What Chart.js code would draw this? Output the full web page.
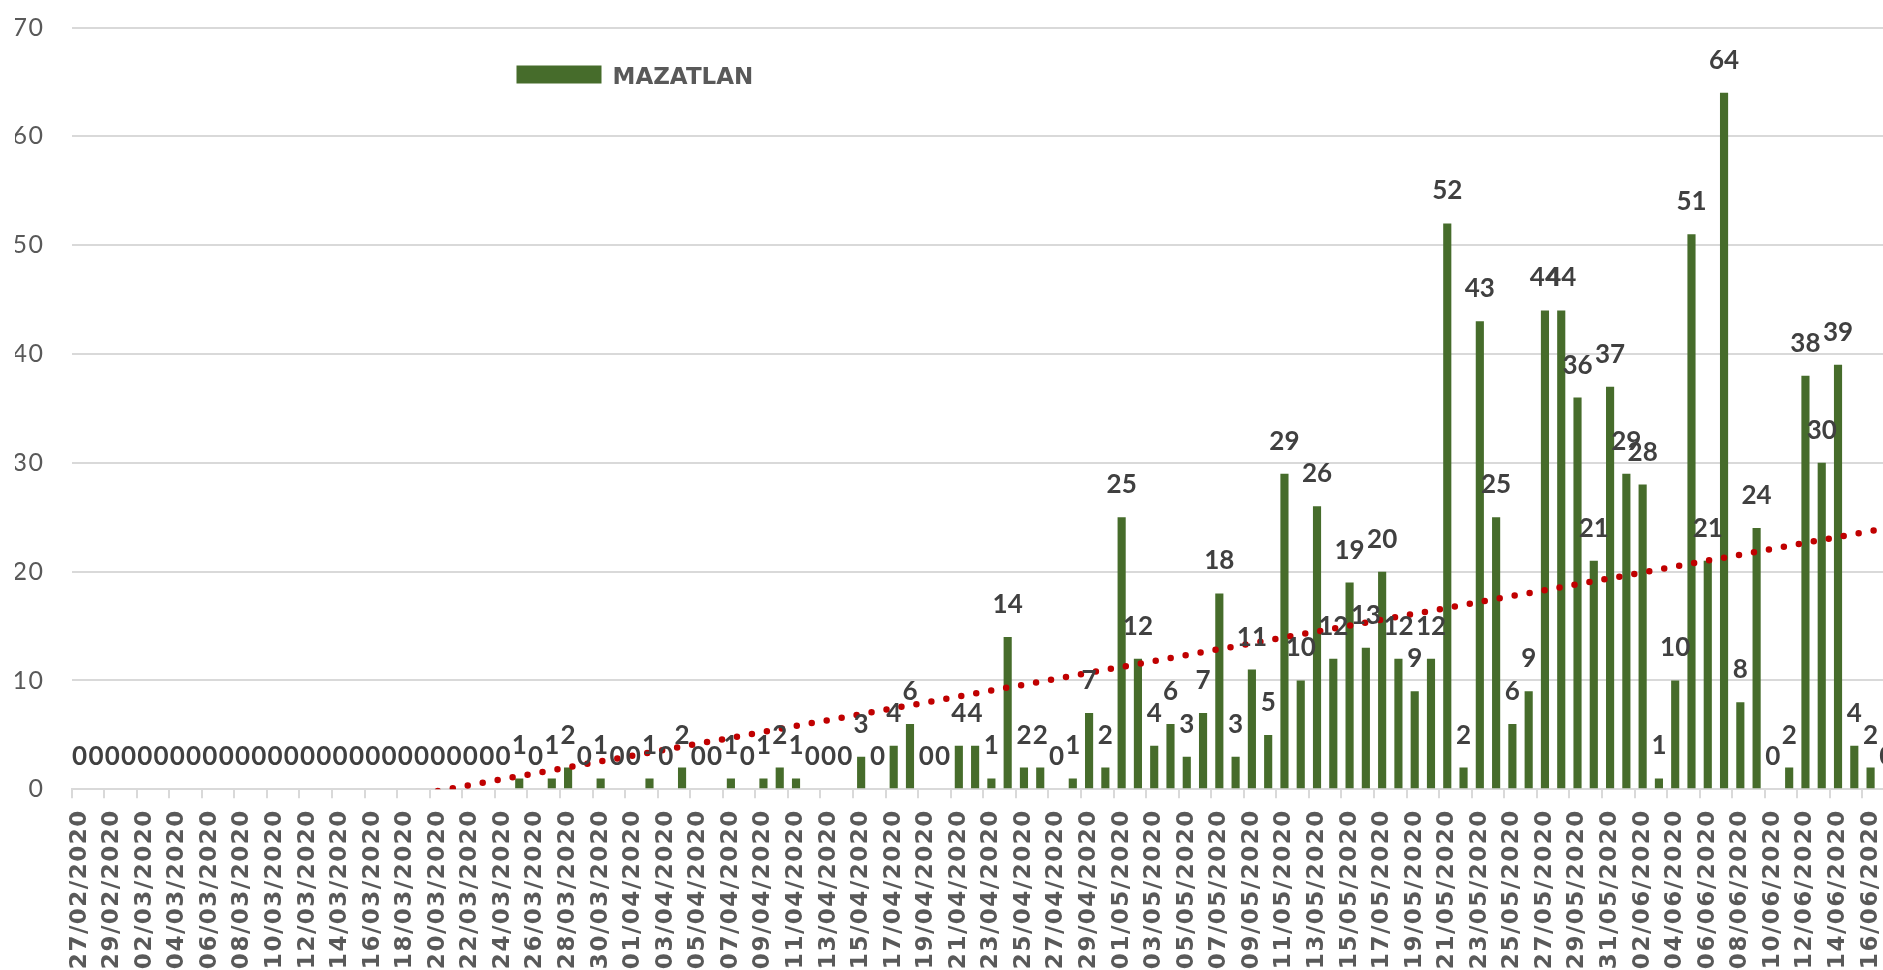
<!DOCTYPE html>
<html lang="es">
<head>
<meta charset="UTF-8">
<title>MAZATLAN</title>
<script src="https://cdn.jsdelivr.net/npm/chart.js@4.4.1/dist/chart.umd.min.js"></script>
<style>
    html, body { margin: 0; padding: 0; background: #ffffff; overflow: hidden; }
    #chartBox { width: 1883px; height: 970px; overflow: hidden; }
</style>
</head>
<body>
<div id="chartBox">
    <canvas id="casosChart" width="1900" height="970"></canvas>
</div>
<script>
// Datos de la gráfica
const fechas = [
    '27/02/2020', '28/02/2020', '29/02/2020',
    '01/03/2020', '02/03/2020', '03/03/2020', '04/03/2020', '05/03/2020', '06/03/2020', '07/03/2020', '08/03/2020',
    '09/03/2020', '10/03/2020', '11/03/2020', '12/03/2020', '13/03/2020', '14/03/2020', '15/03/2020', '16/03/2020',
    '17/03/2020', '18/03/2020', '19/03/2020', '20/03/2020', '21/03/2020', '22/03/2020', '23/03/2020', '24/03/2020',
    '25/03/2020', '26/03/2020', '27/03/2020', '28/03/2020', '29/03/2020', '30/03/2020', '31/03/2020',
    '01/04/2020', '02/04/2020', '03/04/2020', '04/04/2020', '05/04/2020', '06/04/2020', '07/04/2020', '08/04/2020',
    '09/04/2020', '10/04/2020', '11/04/2020', '12/04/2020', '13/04/2020', '14/04/2020', '15/04/2020', '16/04/2020',
    '17/04/2020', '18/04/2020', '19/04/2020', '20/04/2020', '21/04/2020', '22/04/2020', '23/04/2020', '24/04/2020',
    '25/04/2020', '26/04/2020', '27/04/2020', '28/04/2020', '29/04/2020', '30/04/2020',
    '01/05/2020', '02/05/2020', '03/05/2020', '04/05/2020', '05/05/2020', '06/05/2020', '07/05/2020', '08/05/2020',
    '09/05/2020', '10/05/2020', '11/05/2020', '12/05/2020', '13/05/2020', '14/05/2020', '15/05/2020', '16/05/2020',
    '17/05/2020', '18/05/2020', '19/05/2020', '20/05/2020', '21/05/2020', '22/05/2020', '23/05/2020', '24/05/2020',
    '25/05/2020', '26/05/2020', '27/05/2020', '28/05/2020', '29/05/2020', '30/05/2020', '31/05/2020',
    '01/06/2020', '02/06/2020', '03/06/2020', '04/06/2020', '05/06/2020', '06/06/2020', '07/06/2020', '08/06/2020',
    '09/06/2020', '10/06/2020', '11/06/2020', '12/06/2020', '13/06/2020', '14/06/2020', '15/06/2020', '16/06/2020',
    '17/06/2020'
];

const casosMazatlan = [
    0, 0, 0, 0, 0, 0, 0, 0, 0, 0,
    0, 0, 0, 0, 0, 0, 0, 0, 0, 0,
    0, 0, 0, 0, 0, 0, 0, 1, 0, 1,
    2, 0, 1, 0, 0, 1, 0, 2, 0, 0,
    1, 0, 1, 2, 1, 0, 0, 0, 3, 0,
    4, 6, 0, 0, 4, 4, 1, 14, 2, 2,
    0, 1, 7, 2, 25, 12, 4, 6, 3, 7,
    18, 3, 11, 5, 29, 10, 26, 12, 19, 13,
    20, 12, 9, 12, 52, 2, 43, 25, 6, 9,
    44, 44, 36, 21, 37, 29, 28, 1, 10, 51,
    21, 64, 8, 24, 0, 2, 38, 30, 39, 4,
    2, 0
];

// Línea de tendencia (extremos)
const tendenciaFechas = ['20/03/2020', '17/06/2020'];
const tendenciaValores = [-0.15, 24.0];

// Eje Y
const ejeYMin = 0;
const ejeYMax = 70;
const ejeYPaso = 10;

const COLOR_BARRA = '#466C2B';
const COLOR_TENDENCIA = '#C00000';
const COLOR_TEXTO = '#595959';
const COLOR_GRID = '#D9D9D9';

// Etiquetas de valor encima de cada barra
const etiquetasValor = {
    id: 'etiquetasValor',
    afterDatasetsDraw(chart) {
        const ctx = chart.ctx;
        const meta = chart.getDatasetMeta(0);
        ctx.save();
        ctx.letterSpacing = '0px';
        ctx.font = 'bold 26px Lato';
        ctx.fillStyle = '#404040';
        ctx.textAlign = 'center';
        ctx.textBaseline = 'alphabetic';
        meta.data.forEach((bar, i) => {
            ctx.fillText(String(casosMazatlan[i]), bar.x, bar.y - 24);
        });
        ctx.restore();
    }
};

// Leyenda dentro del área de la gráfica
const leyendaSerie = {
    id: 'leyendaSerie',
    afterDraw(chart) {
        const ctx = chart.ctx;
        const area = chart.chartArea;
        const ds = chart.data.datasets[0];
        const x = area.left + 445;
        const y = area.top + 38;
        ctx.save();
        ctx.letterSpacing = '0px';
        ctx.fillStyle = ds.backgroundColor;
        ctx.fillRect(x, y, 85, 18);
        ctx.font = 'bold 23px "DejaVu Sans"';
        ctx.fillStyle = COLOR_TEXTO;
        ctx.textAlign = 'left';
        ctx.textBaseline = 'alphabetic';
        ctx.fillText(ds.label, x + 96, y + 18);
        ctx.restore();
    }
};

// Espaciado de letras para las fechas del eje X
const espaciadoEjes = {
    id: 'espaciadoEjes',
    beforeDraw(chart) {
        chart.ctx.letterSpacing = '1.5px';
    },
    beforeDatasetsDraw(chart) {
        chart.ctx.letterSpacing = '0px';
    }
};

document.addEventListener('DOMContentLoaded', function() {
    const ctx = document.getElementById('casosChart');
    new Chart(ctx.getContext('2d'), {
        type: 'bar',
        data: {
            labels: fechas,
            datasets: [
                {
                    label: 'MAZATLAN',
                    data: casosMazatlan,
                    backgroundColor: COLOR_BARRA,
                    borderWidth: 0,
                    barPercentage: 0.5,
                    categoryPercentage: 1.0,
                    order: 2
                },
                {
                    type: 'line',
                    label: 'Tendencia',
                    data: tendenciaFechas.map((f, i) => ({ x: f, y: tendenciaValores[i] })),
                    borderColor: COLOR_TENDENCIA,
                    borderWidth: 6.5,
                    borderDash: [0, 15.2],
                    borderCapStyle: 'round',
                    pointRadius: 0,
                    fill: false,
                    tension: 0,
                    order: 1
                }
            ]
        },
        options: {
            responsive: false,
            animation: false,
            events: [],
            layout: {
                padding: { left: 15, top: 27.5, right: 5, bottom: 0 }
            },
            plugins: {
                legend: { display: false },
                tooltip: { enabled: false }
            },
            scales: {
                x: {
                    offset: true,
                    afterFit: function(scale) {
                        scale.height = 180.7;
                        scale.paddingLeft = 0;
                        scale.paddingRight = 0;
                    },
                    grid: {
                        offset: true,
                        drawOnChartArea: false,
                        drawTicks: true,
                        tickLength: 9,
                        lineWidth: 2,
                        color: function(c) {
                            return c.index % 2 === 0 ? COLOR_GRID : 'rgba(0,0,0,0)';
                        }
                    },
                    border: { display: true, color: COLOR_GRID, width: 2 },
                    ticks: {
                        autoSkip: false,
                        maxRotation: 90,
                        minRotation: 90,
                        padding: 11,
                        color: COLOR_TEXTO,
                        font: { family: 'DejaVu Sans', size: 23, weight: 'bold' },
                        callback: function(value, index) {
                            return index % 2 === 0 ? this.getLabelForValue(value) : '';
                        }
                    }
                },
                y: {
                    min: ejeYMin,
                    max: ejeYMax,
                    afterFit: function(scale) {
                        scale.width = 56.5;
                        scale.paddingTop = 0;
                        scale.paddingBottom = 0;
                    },
                    grid: {
                        color: COLOR_GRID,
                        lineWidth: 2,
                        drawTicks: false
                    },
                    border: { display: false },
                    ticks: {
                        stepSize: ejeYPaso,
                        padding: 27,
                        color: COLOR_TEXTO,
                        font: { family: 'Lato', size: 25 }
                    }
                }
            }
        },
        plugins: [espaciadoEjes, etiquetasValor, leyendaSerie]
    });
});
</script>
</body>
</html>
